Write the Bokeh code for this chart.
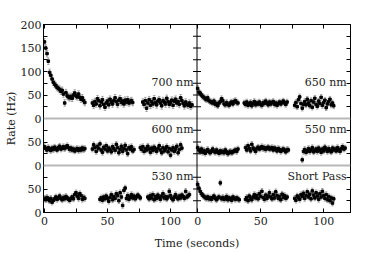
import numpy as np
from bokeh.plotting import figure
from bokeh.models import (Range1d, LinearAxis, FixedTicker, Span, Whisker, TeeHead,
                          ColumnDataSource, Label, CustomJSTickFormatter)
from bokeh.embed import file_html
from bokeh.resources import INLINE

# ---------------- data (rate in Hz, 1 s bins) ----------------
panel_names = ["700 nm", "650 nm", "600 nm", "550 nm", "530 nm", "Short Pass"]

# segment start times (s)
starts_700 = [0, 38, 78]
r700_a = [163, 150, 138, 122, 98, 92, 84, 77, 73, 70, 66, 64, 62, 58, 60, 52, 33, 55, 48, 46, 44,
          47, 43, 50, 54, 48, 46, 52, 45, 41, 44, 38, 34]
r700_b = [33, 28, 36, 31, 42, 38, 27, 35, 40, 30, 24, 33, 37, 29, 41, 35, 31, 38, 44, 36, 30, 39,
          42, 34, 37, 31, 39, 35, 40, 33, 36, 38, 34]
r700_c = [35, 30, 38, 22, 33, 40, 28, 36, 31, 42, 34, 29, 37, 40, 33, 27, 38, 35, 31, 43, 36, 30,
          34, 39, 28, 37, 41, 33, 36, 30, 44, 38, 32, 27, 35, 30, 28, 33, 26, 29]

starts_650 = [0, 37, 77]
r650_a = [64, 56, 54, 50, 47, 45, 42, 40, 44, 38, 36, 35, 33, 37, 30, 32, 27, 33, 36, 42, 38, 31,
          29, 34, 30, 28, 33, 35, 31, 36, 38, 34, 33]
r650_b = [33, 30, 35, 28, 31, 34, 27, 32, 36, 29, 33, 31, 35, 30, 28, 34, 32, 37, 33, 29, 35, 31,
          34, 36, 30, 33, 28, 32, 35, 31, 34, 37, 33, 30, 35]
r650_c = [28, 34, 25, 40, 46, 32, 22, 30, 36, 29, 41, 33, 27, 38, 24, 35, 43, 30, 26, 37, 32, 45,
          28, 34, 39, 23, 31, 36, 41, 29, 33, 27]

starts_600 = [0, 38, 76]
r600_a = [40, 36, 33, 38, 35, 32, 37, 34, 39, 36, 33, 38, 41, 35, 37, 40, 36, 39, 42, 38, 34, 37,
          33, 35, 31, 34, 36, 32, 35, 33, 37, 34, 36]
r600_b = [35, 44, 38, 30, 41, 36, 46, 33, 28, 39, 35, 42, 31, 37, 34, 29, 40, 36, 32, 45, 38, 27,
          34, 41, 30, 36, 43, 33, 25, 38, 35, 40, 31, 34]
r600_c = [38, 34, 40, 30, 36, 33, 41, 35, 28, 37, 32, 39, 34, 30, 36, 42, 33, 27, 38, 31, 35, 40,
          29, 36, 22, 33, 38, 30, 35, 41, 27, 34, 44, 37]

starts_550 = [0, 38, 83]
r550_a = [38, 33, 30, 35, 28, 32, 26, 30, 34, 29, 27, 31, 35, 30, 28, 33, 29, 26, 31, 28, 30, 27,
          33, 29, 25, 28, 30, 27, 29, 31, 33, 30, 35]
r550_b = [38, 33, 42, 36, 31, 45, 37, 34, 30, 36, 39, 35, 37, 40, 36, 38, 34, 37, 39, 35, 36, 38,
          33, 37, 35, 31, 36, 34, 30, 33, 35, 32, 29, 34, 33]
r550_c = [12, 30, 34, 28, 31, 36, 30, 33, 38, 29, 32, 35, 30, 37, 33, 28, 35, 31, 39, 34, 30, 36,
          32, 29, 37, 33, 35, 31, 38, 34, 30, 36, 40, 35, 37]

starts_530 = [0, 44, 82]
r530_a = [30, 27, 32, 28, 25, 30, 22, 26, 29, 33, 28, 31, 35, 30, 27, 32, 29, 34, 31, 28, 26, 30,
          33, 29, 38, 42, 35, 30, 40, 36, 28, 32, 30]
r530_b = [28, 31, 26, 33, 29, 35, 30, 24, 32, 38, 27, 34, 30, 40, 36, 25, 42, 33, 15, 47, 52, 30,
          36, 28, 33, 38, 31, 35, 29, 33, 37, 34, 31]
r530_c = [33, 29, 36, 31, 38, 27, 34, 30, 37, 32, 28, 35, 40, 31, 34, 29, 33, 45, 36, 30, 27, 33,
          38, 32, 29, 35, 31, 37, 34, 30, 45, 33, 36, 38]

starts_sp = [0, 38, 77]
rsp_a = [60, 52, 45, 40, 37, 34, 32, 30, 33, 29, 31, 28, 32, 35, 30, 27, 31, 33, 63, 29, 32, 28,
         30, 34, 27, 31, 29, 26, 33, 30, 28, 31, 29, 27]
rsp_b = [28, 32, 25, 35, 30, 27, 33, 38, 31, 36, 29, 40, 34, 45, 32, 28, 37, 30, 35, 42, 33, 29,
         38, 31, 44, 36, 30, 34, 27, 39, 32, 36, 30, 33]
rsp_c = [30, 26, 35, 32, 28, 38, 34, 41, 30, 36, 44, 33, 39, 29, 46, 37, 31, 42, 35, 28, 40, 33,
         45, 36, 30, 38, 27, 34, 25, 31, 20, 29]

errors = [7, 6, 6, 6, 6, 6]  # typical error bar half-length (Hz)

x_ticks = [0, 50, 100]
x_minor = [25, 75]

# ---------------- layout of the stacked panels ----------------
panels = [
    (starts_700, [r700_a, r700_b, r700_c]),
    (starts_650, [r650_a, r650_b, r650_c]),
    (starts_600, [r600_a, r600_b, r600_c]),
    (starts_550, [r550_a, r550_b, r550_c]),
    (starts_530, [r530_a, r530_b, r530_c]),
    (starts_sp, [rsp_a, rsp_b, rsp_c]),
]
X_SHIFT = 121.5     # right column offset
DIV = 121.0         # column divider
Y_BASE = [200, 200, 100, 100, 0, 0]
X_BASE = [0, X_SHIFT, 0, X_SHIFT, 0, X_SHIFT]

FONT = "DejaVu Serif"
TXT = "#222222"
ERRC = "#777777"

p = figure(width=374, height=253, output_backend="svg", toolbar_location=None,
           x_range=Range1d(-0.8, 242.8), y_range=Range1d(0, 400),
           min_border_left=43, min_border_right=24, min_border_top=24, min_border_bottom=41)
p.xgrid.visible = False
p.ygrid.visible = False
p.outline_line_color = "black"
p.background_fill_color = "white"

# separators
for yb in (100, 200):
    p.add_layout(Span(location=yb, dimension="width", line_color="#b8b8b8", line_width=2))
p.add_layout(Span(location=DIV, dimension="height", line_color="black", line_width=1))

# data
for i, (starts, segs) in enumerate(panels):
    xs, ys = [], []
    for s, seg in zip(starts, segs):
        for k, v in enumerate(seg):
            xs.append(X_BASE[i] + s + k)
            ys.append(Y_BASE[i] + v)
    xs = np.array(xs, dtype=float)
    ys = np.array(ys, dtype=float)
    src = ColumnDataSource(dict(x=xs, y=ys, lo=ys - errors[i], hi=ys + errors[i]))
    w = Whisker(source=src, base="x", upper="hi", lower="lo", line_color=ERRC,
                line_width=0.6,
                upper_head=TeeHead(size=2.5, line_color=ERRC, line_width=0.6),
                lower_head=TeeHead(size=2.5, line_color=ERRC, line_width=0.6))
    p.add_layout(w)
    p.scatter("x", "y", source=src, marker="square", size=2.5, color="black")

# panel labels
for i, name in enumerate(panel_names):
    xr = X_BASE[i] + 118.3
    p.add_layout(Label(x=xr, y=Y_BASE[i] + 76, text=name, text_align="right",
                       text_baseline="middle", text_font=FONT, text_font_size="11px",
                       text_color=TXT))

# ---------------- axes ----------------
ymaj = [0, 50, 100, 150, 200, 250, 300, 350, 400]
ymin = [25, 75, 125, 175, 225, 275, 325, 375]
xmaj = [b + t for b in (0, X_SHIFT) for t in x_ticks]
xmin = [b + t for b in (0, X_SHIFT) for t in x_minor]

yfmt = CustomJSTickFormatter(code="""
    var v = tick >= 200 ? tick - 200 : (tick >= 100 ? tick - 100 : tick);
    return String(Math.round(v));""")
xfmt = CustomJSTickFormatter(code="""
    var v = tick > 120 ? tick - %s : tick;
    return String(Math.round(v));""" % X_SHIFT)
blank = CustomJSTickFormatter(code="return '';")


def style(ax):
    ax.major_tick_in = 4
    ax.major_tick_out = 0
    ax.minor_tick_in = 4
    ax.minor_tick_out = 0
    ax.axis_line_color = "black"
    ax.major_tick_line_color = "black"
    ax.minor_tick_line_color = "black"
    ax.major_label_text_font = FONT
    ax.major_label_text_font_size = "11px"
    ax.major_label_text_color = TXT
    ax.axis_label_text_font = FONT
    ax.axis_label_text_font_size = "11px"
    ax.axis_label_text_font_style = "normal"
    ax.axis_label_text_color = TXT


yl = p.yaxis[0]
yl.ticker = FixedTicker(ticks=ymaj, minor_ticks=ymin)
yl.formatter = yfmt
yl.axis_label = "Rate (Hz)"
style(yl)
yl.major_label_standoff = 2
yl.axis_label_standoff = 0

xb = p.xaxis[0]
xb.ticker = FixedTicker(ticks=xmaj, minor_ticks=xmin)
xb.formatter = xfmt
xb.axis_label = "Time (seconds)"
style(xb)
xb.major_label_standoff = 4
xb.axis_label_standoff = 9

xt = LinearAxis(ticker=FixedTicker(ticks=xmaj, minor_ticks=xmin), formatter=blank)
style(xt)
xt.major_label_standoff = 0
p.add_layout(xt, "above")

yr = LinearAxis(ticker=FixedTicker(ticks=ymaj, minor_ticks=ymin), formatter=blank)
style(yr)
yr.major_label_standoff = 0
p.add_layout(yr, "right")

# ticks on the column divider (both sides)
div_ticks = ymaj + ymin
p.scatter(x=[DIV] * len(div_ticks), y=div_ticks, marker="dash", size=8, color="black",
          line_width=1)

open("out.html", "w").write(file_html(p, INLINE))
